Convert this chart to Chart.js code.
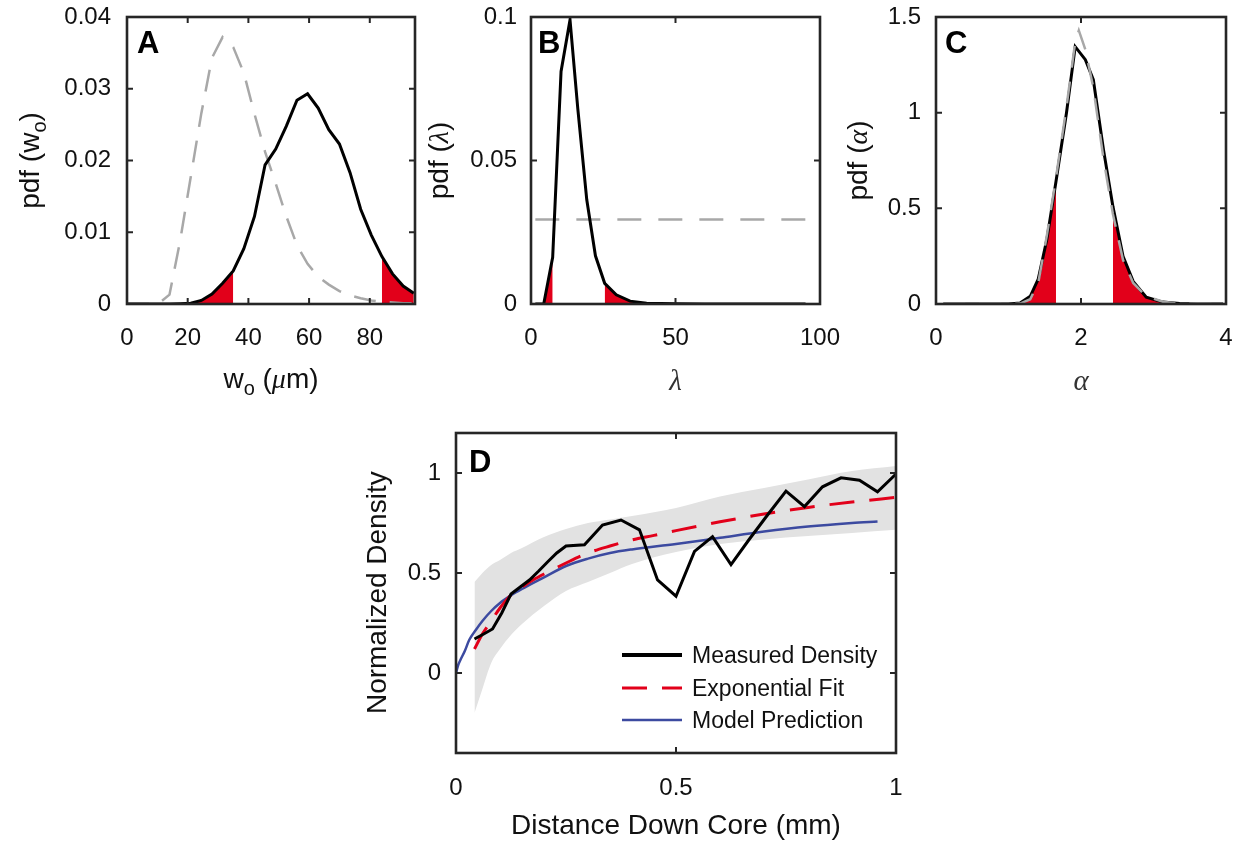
<!DOCTYPE html>
<html>
<head>
<meta charset="utf-8">
<script src="https://cdn.jsdelivr.net/npm/chart.js@4.4.0/dist/chart.umd.min.js"></script>
<style>
  body { margin: 0; background: #fff; width: 1239px; height: 844px; position: relative; overflow: hidden; }
  canvas { position: absolute; }
</style>
</head>
<body>
<canvas id="chartA" width="420" height="410" style="left:0;top:0"></canvas>
<canvas id="chartB" width="440" height="410" style="left:420px;top:0"></canvas>
<canvas id="chartC" width="409" height="410" style="left:830px;top:0"></canvas>
<canvas id="chartD" width="580" height="434" style="left:340px;top:410px"></canvas>
<script>
// ====== DATA ======
// panel A : pdf of w_o
const aX = [0, 3.5, 7, 10.5, 14, 17.5, 21, 24.5, 28, 31.5, 35, 38.5, 42, 45.5, 49, 52.5, 56, 59.5, 63, 66.5, 70, 73.5, 77, 80.5, 84, 87.5, 91, 94.5];
const aPosterior = [0, 0, 0, 0, 0, 0.00005, 0.0001, 0.0005, 0.0014, 0.0029, 0.0046, 0.0077, 0.0122, 0.0194, 0.0216, 0.0248, 0.0284, 0.0293, 0.0273, 0.0243, 0.0223, 0.0183, 0.0132, 0.0096, 0.0066, 0.0042, 0.0025, 0.0015];
const aPrior = [0, 0, 0, 0.0001, 0.0013, 0.0088, 0.0177, 0.0266, 0.0343, 0.0372, 0.0358, 0.0322, 0.0265, 0.0212, 0.0168, 0.0122, 0.0082, 0.0056, 0.0038, 0.0027, 0.0018, 0.0012, 0.0008, 0.0005, 0.0003, 0.0002, 0.0001, 0.0001];
const aTails = [35, 84];
const aXTicks = [0, 20, 40, 60, 80];
const aYTicks = [0, 0.01, 0.02, 0.03, 0.04];

// panel B : pdf of lambda
const bX = [1.5, 4.4, 7.5, 10.4, 13.5, 16.2, 19.3, 22.3, 25.5, 29.5, 34.3, 40, 50, 60, 70, 80, 95];
const bPosterior = [0, 0, 0.0163, 0.081, 0.099, 0.068, 0.0363, 0.0168, 0.0072, 0.0032, 0.001, 0.0003, 0.0001, 0, 0, 0, 0];
const bPriorX = [1.5, 95];
const bPrior = [0.0294, 0.0294];
const bTails = [7.5, 25.5];
const bXTicks = [0, 50, 100];
const bYTicks = [0, 0.05, 0.1];

// panel C : pdf of alpha
const cX = [0.1, 0.5, 1.0, 1.16, 1.30, 1.41, 1.53, 1.655, 1.80, 1.92, 2.06, 2.17, 2.31, 2.44, 2.58, 2.72, 2.90, 3.13, 3.36, 3.6, 3.96];
const cPosterior = [0, 0, 0, 0.005, 0.04, 0.13, 0.34, 0.64, 1.0, 1.345, 1.277, 1.172, 0.807, 0.51, 0.249, 0.118, 0.035, 0.01, 0.002, 0, 0];
const cPriorX = [0.1, 1.0, 1.16, 1.30, 1.41, 1.53, 1.655, 1.80, 1.92, 1.97, 2.06, 2.17, 2.31, 2.44, 2.58, 2.72, 2.90, 3.13, 3.36, 3.96];
const cPrior = [0, 0, 0.002, 0.025, 0.11, 0.36, 0.66, 1.03, 1.37, 1.43, 1.33, 1.13, 0.76, 0.47, 0.23, 0.11, 0.04, 0.012, 0.002, 0];
const cTails = [1.655, 2.44];
const cXTicks = [0, 2, 4];
const cYTicks = [0, 0.5, 1, 1.5];

// panel D : density down core
const dMeasuredX = [0.042, 0.063, 0.083, 0.104, 0.125, 0.146, 0.167, 0.188, 0.208, 0.229, 0.25, 0.292, 0.333, 0.375, 0.417, 0.458, 0.5, 0.542, 0.583, 0.625, 0.667, 0.708, 0.75, 0.792, 0.833, 0.875, 0.917, 0.958, 1.0];
const dMeasured = [0.17, 0.195, 0.22, 0.30, 0.395, 0.43, 0.465, 0.51, 0.555, 0.60, 0.635, 0.641, 0.74, 0.765, 0.716, 0.465, 0.384, 0.608, 0.682, 0.542, 0.67, 0.79, 0.909, 0.832, 0.931, 0.976, 0.964, 0.906, 0.995];
const dFitX = [0.042, 0.06, 0.08, 0.1, 0.125, 0.15, 0.175, 0.2, 0.25, 0.3, 0.35, 0.4, 0.45, 0.5, 0.6, 0.7, 0.8, 0.9, 1.0];
const dFit = [0.12, 0.195, 0.26, 0.325, 0.39, 0.43, 0.465, 0.495, 0.55, 0.6, 0.635, 0.665, 0.688, 0.712, 0.756, 0.795, 0.828, 0.855, 0.878];
const dModelX = [0, 0.005, 0.01, 0.02, 0.03, 0.045, 0.06, 0.08, 0.1, 0.125, 0.15, 0.2, 0.25, 0.3, 0.35, 0.4, 0.5, 0.6, 0.7, 0.8, 0.9, 0.958];
const dModel = [0, 0.04, 0.065, 0.11, 0.165, 0.215, 0.26, 0.31, 0.35, 0.388, 0.42, 0.478, 0.535, 0.572, 0.6, 0.618, 0.645, 0.676, 0.707, 0.732, 0.75, 0.758];
const dBandX = [0.042, 0.06, 0.08, 0.1, 0.125, 0.15, 0.2, 0.25, 0.3, 0.35, 0.4, 0.5, 0.6, 0.7, 0.8, 0.9, 1.0];
const dBandHigh = [0.455, 0.50, 0.54, 0.565, 0.60, 0.625, 0.68, 0.72, 0.75, 0.768, 0.785, 0.825, 0.882, 0.925, 0.968, 1.01, 1.035];
const dBandLow = [-0.2, -0.08, 0.05, 0.12, 0.19, 0.245, 0.335, 0.41, 0.455, 0.5, 0.545, 0.605, 0.645, 0.668, 0.685, 0.7, 0.716];
const dXTicks = [0, 0.5, 1];
const dYTicks = [0, 0.5, 1];
const dLabels = ['Measured Density', 'Exponential Fit', 'Model Prediction'];

// ====== STYLE ======
const SANS = '"Liberation Sans", Arial, sans-serif';
const SERIF = '"Liberation Serif", "DejaVu Serif", serif';
const INK = '#111';
const FRAME = '#262626';
const RED = '#e2001a';
const GREY = '#a8a8a8';
const BLUE = '#3c4aa0';
const LABEL_FONT = '28px ' + SANS;
const SUB_FONT = '20px ' + SANS;

// ====== HELPERS ======
const pts = (xs, ys) => xs.map((x, i) => ({ x: x, y: ys[i] }));
const tail = (xs, ys, keep) => pts(xs, ys).filter(p => keep(p.x));

function drawParts(ctx, parts, x, y, rotate) {
    ctx.save();
    ctx.translate(x, y);
    if (rotate) ctx.rotate(-Math.PI / 2);
    ctx.textBaseline = 'alphabetic';
    ctx.textAlign = 'left';
    let w = 0;
    parts.forEach(p => { ctx.font = p.font; w += ctx.measureText(p.text).width; });
    let cx = -w / 2;
    parts.forEach(p => {
        ctx.font = p.font;
        ctx.fillStyle = p.color || INK;
        ctx.fillText(p.text, cx, p.dy || 0);
        cx += ctx.measureText(p.text).width;
    });
    ctx.restore();
}

// box with inward ticks on all four sides
const framePlugin = {
    id: 'frame',
    afterDatasetsDraw(chart) {
        const { ctx, chartArea: a, scales } = chart;
        const t = 6;
        ctx.save();
        ctx.strokeStyle = FRAME;
        ctx.lineWidth = 2;
        ctx.beginPath();
        scales.x.ticks.forEach(tk => {
            const px = scales.x.getPixelForValue(tk.value);
            ctx.moveTo(px, a.bottom); ctx.lineTo(px, a.bottom - t);
            ctx.moveTo(px, a.top); ctx.lineTo(px, a.top + t);
        });
        scales.y.ticks.forEach(tk => {
            const py = scales.y.getPixelForValue(tk.value);
            ctx.moveTo(a.left, py); ctx.lineTo(a.left + t, py);
            ctx.moveTo(a.right, py); ctx.lineTo(a.right - t, py);
        });
        ctx.stroke();
        ctx.lineWidth = 2.6;
        ctx.strokeRect(a.left, a.top, a.right - a.left, a.bottom - a.top);
        ctx.restore();
    }
};

// panel letter + axis titles
const panelTextPlugin = {
    id: 'panelText',
    beforeDatasetsDraw(chart, args, o) {
        const ctx = chart.ctx;
        ctx.save();
        ctx.font = 'bold 31px ' + SANS;
        ctx.fillStyle = '#000';
        ctx.textBaseline = 'alphabetic';
        ctx.fillText(o.letter, o.letterAt[0], o.letterAt[1]);
        ctx.restore();
    },
    afterDraw(chart, args, o) {
        const ctx = chart.ctx;
        drawParts(ctx, o.xTitle, o.xTitleAt[0], o.xTitleAt[1], false);
        drawParts(ctx, o.yTitle, o.yTitleAt[0], o.yTitleAt[1], true);
    }
};

// legend inside panel D
const insideLegendPlugin = {
    id: 'insideLegend',
    afterDatasetsDraw(chart, args, o) {
        if (!o.rows) return;
        const ctx = chart.ctx;
        ctx.save();
        chart.data.datasets.filter(ds => ds.label).forEach((ds, i) => {
            const y = o.rows[i];
            ctx.strokeStyle = ds.borderColor;
            ctx.lineWidth = ds.legendWidth || ds.borderWidth;
            ctx.setLineDash(ds.borderDash || []);
            ctx.beginPath();
            ctx.moveTo(o.lineX[0], y);
            ctx.lineTo(o.lineX[1], y);
            ctx.stroke();
            ctx.setLineDash([]);
            ctx.font = '23px ' + SANS;
            ctx.fillStyle = INK;
            ctx.textBaseline = 'middle';
            ctx.fillText(ds.label, o.textX, y + 2);
        });
        ctx.restore();
    }
};

// keep the plot box exactly where the layout padding puts it
function noOverflow(s) {
    s.paddingTop = 0; s.paddingBottom = 0; s.paddingLeft = 0; s.paddingRight = 0;
}

function scales(xr, yr, xTicks, yTicks, yWidth, xHeight, yPad, xPad) {
    const tickFont = { family: SANS, size: 24 };
    return {
        x: {
            type: 'linear', min: xr[0], max: xr[1],
            afterBuildTicks: s => { s.ticks = xTicks.map(v => ({ value: v })); },
            afterFit: s => { s.height = xHeight; noOverflow(s); },
            grid: { display: false, drawTicks: false }, border: { display: false },
            ticks: { font: tickFont, color: INK, padding: xPad, maxRotation: 0, autoSkip: false, callback: v => String(v) }
        },
        y: {
            type: 'linear', min: yr[0], max: yr[1],
            afterBuildTicks: s => { s.ticks = yTicks.map(v => ({ value: v })); },
            afterFit: s => { s.width = yWidth; noOverflow(s); },
            grid: { display: false, drawTicks: false }, border: { display: false },
            ticks: { font: tickFont, color: INK, padding: yPad, autoSkip: false, callback: v => String(v) }
        }
    };
}

function line(data, color, width, dash, extra) {
    return Object.assign({ data: data, borderColor: color, borderWidth: width, borderDash: dash || [],
        pointRadius: 0, fill: false, tension: 0 }, extra || {});
}

function tailSet(data) {
    return { data: data, borderWidth: 0, borderColor: 'rgba(0,0,0,0)', backgroundColor: RED,
        pointRadius: 0, fill: 'origin', tension: 0 };
}

function baseOptions(sc, padRight, padTop, text, legend) {
    return {
        responsive: false, animation: false, devicePixelRatio: 1,
        layout: { padding: { left: 0, right: padRight, top: padTop, bottom: 0 } },
        scales: sc,
        plugins: { legend: { display: false }, tooltip: { enabled: false }, panelText: text, insideLegend: legend || {} }
    };
}

const plugins = [framePlugin, panelTextPlugin, insideLegendPlugin];

// ====== PANEL A ======
new Chart(document.getElementById('chartA'), {
    type: 'line',
    data: { datasets: [
        line(pts(aX, aPosterior), '#000', 3),
        line(pts(aX, aPrior), GREY, 2.5, [22, 14]),
        tailSet(tail(aX, aPosterior, x => x <= aTails[0])),
        tailSet(tail(aX, aPosterior, x => x >= aTails[1]))
    ] },
    options: baseOptions(scales([0, 94.9], [0, 0.04], aXTicks, aYTicks, 127, 106, 16, 20), 5, 17, {
        letter: 'A', letterAt: [137, 53],
        xTitle: [{ text: 'w', font: LABEL_FONT }, { text: 'o', font: SUB_FONT, dy: 7 }, { text: ' (', font: LABEL_FONT },
                 { text: 'μ', font: 'italic 28px ' + SERIF }, { text: 'm)', font: LABEL_FONT }],
        xTitleAt: [271, 388],
        yTitle: [{ text: 'pdf (w', font: LABEL_FONT }, { text: 'o', font: SUB_FONT, dy: 7 }, { text: ')', font: LABEL_FONT }],
        yTitleAt: [39, 160.5]
    }),
    plugins: plugins
});

// ====== PANEL B ======
new Chart(document.getElementById('chartB'), {
    type: 'line',
    data: { datasets: [
        line(pts(bX, bPosterior), '#000', 3),
        line(pts(bPriorX, bPrior), GREY, 2.5, [24, 17]),
        tailSet(tail(bX, bPosterior, x => x <= bTails[0])),
        tailSet(tail(bX, bPosterior, x => x >= bTails[1]))
    ] },
    options: baseOptions(scales([0, 100], [0, 0.1], bXTicks, bYTicks, 111, 106, 14, 20), 40, 17, {
        letter: 'B', letterAt: [118, 53],
        xTitle: [{ text: 'λ', font: 'italic 29px ' + SERIF, color: '#333' }],
        xTitleAt: [255.5, 390],
        yTitle: [{ text: 'pdf (', font: LABEL_FONT }, { text: 'λ', font: 'italic 28px ' + SERIF }, { text: ')', font: LABEL_FONT }],
        yTitleAt: [28, 160.5]
    }),
    plugins: plugins
});

// ====== PANEL C ======
new Chart(document.getElementById('chartC'), {
    type: 'line',
    data: { datasets: [
        line(pts(cPriorX, cPrior), GREY, 2.5, [22, 14]),
        line(pts(cX, cPosterior), '#000', 3),
        tailSet(tail(cX, cPosterior, x => x <= cTails[0])),
        tailSet(tail(cX, cPosterior, x => x >= cTails[1]))
    ] },
    options: baseOptions(scales([0, 4], [0, 1.5], cXTicks, cYTicks, 106, 106, 15, 20), 13, 17, {
        letter: 'C', letterAt: [115, 53],
        xTitle: [{ text: 'α', font: 'italic 29px ' + SERIF, color: '#333' }],
        xTitleAt: [251, 390],
        yTitle: [{ text: 'pdf (', font: LABEL_FONT }, { text: 'α', font: 'italic 28px ' + SERIF }, { text: ')', font: LABEL_FONT }],
        yTitleAt: [37, 160.5]
    }),
    plugins: plugins
});

// ====== PANEL D ======
new Chart(document.getElementById('chartD'), {
    type: 'line',
    data: { datasets: [
        line(pts(dMeasuredX, dMeasured), '#000', 3, [], { label: dLabels[0], legendWidth: 4 }),
        line(pts(dFitX, dFit), RED, 3, [25, 15], { label: dLabels[1], cubicInterpolationMode: 'monotone' }),
        line(pts(dModelX, dModel), BLUE, 2.5, [], { label: dLabels[2], cubicInterpolationMode: 'monotone' }),
        { data: pts(dBandX, dBandHigh), borderWidth: 0, borderColor: 'rgba(0,0,0,0)', backgroundColor: '#e2e2e2',
          pointRadius: 0, fill: '+1', cubicInterpolationMode: 'monotone' },
        { data: pts(dBandX, dBandLow), borderWidth: 0, borderColor: 'rgba(0,0,0,0)',
          pointRadius: 0, fill: false, cubicInterpolationMode: 'monotone' }
    ] },
    options: baseOptions(scales([0, 1], [-0.4, 1.2], dXTicks, dYTicks, 116, 91, 15, 21), 24, 23, {
        letter: 'D', letterAt: [129, 62],
        xTitle: [{ text: 'Distance Down Core (mm)', font: LABEL_FONT }],
        xTitleAt: [336, 424],
        yTitle: [{ text: 'Normalized Density', font: LABEL_FONT }],
        yTitleAt: [46, 182.7]
    }, { rows: [245, 278, 310], lineX: [282, 342], textX: 352 }),
    plugins: plugins
});
</script>
</body>
</html>
